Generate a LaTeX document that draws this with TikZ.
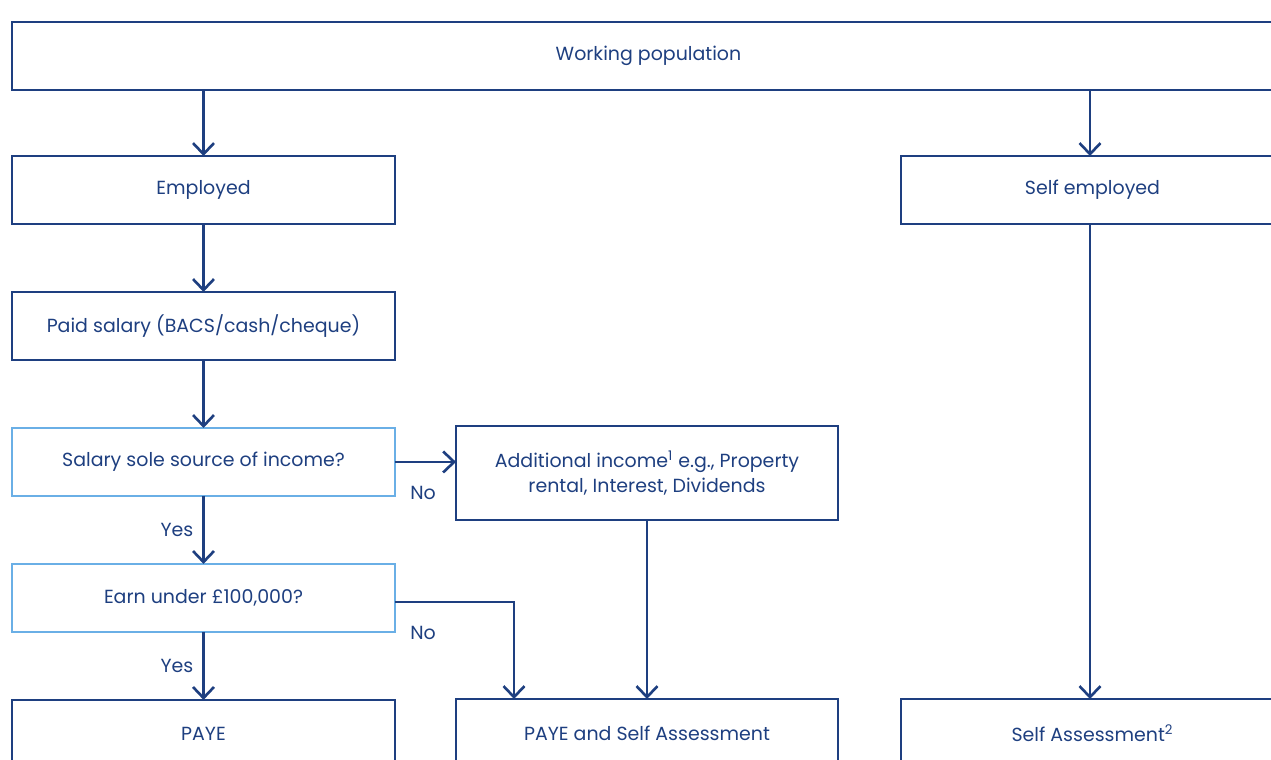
\documentclass[tikz,border=0pt]{standalone}
\usepackage{fontspec}
\setmainfont{Poppins}
\usepackage{tikz}
\usetikzlibrary{positioning,arrows.meta}
\definecolor{flowDark}{HTML}{1E3F80}
\definecolor{flowLight}{HTML}{6AAFE6}
\tikzset{
  flowbox/.style={draw=flowDark, line width=1.5pt, minimum width=7.66cm,
                  minimum height=1.36cm, align=center, text=flowDark, outer sep=0pt,
                  font=\fontsize{10.8}{14}\selectfont, inner sep=2pt},
  askbox/.style={flowbox, draw=flowLight},
  flowarrow/.style={draw=flowDark, line width=1.5pt,
                    -{Straight Barb[length=0.22cm, width=0.42cm, line width=1.5pt]}},
  lbl/.style={text=flowDark, font=\fontsize{10.8}{13}\selectfont, inner sep=1pt},
}
\begin{document}
\begin{tikzpicture}[x=0.02cm, y=-0.02cm, node distance=1.36cm]
\useasboundingbox (0,0) rectangle (1271,760);
\clip (0,0) rectangle (1271,760);

%% Top row
\node[flowbox, minimum width=25.46cm] (work) at (648.5,56) {Working population};
\node[flowbox] (emp) at (203.5,190) {Employed};
\node[flowbox] (self) at (1092.5,190) {Self employed};

%% Employed column
\node[flowbox, below=of emp] (paid) {Paid salary (BACS/cash/cheque)};
\node[askbox, below=of paid] (sole) {Salary sole source of income?};
\node[askbox, below=of sole] (earn) {Earn under £100,000?};
\node[flowbox, below=of earn] (paye) {PAYE};

%% Middle column
\node[flowbox, minimum width=7.64cm, minimum height=1.88cm] (addinc) at (647,473)
  {Additional income\textsuperscript{1} e.g., Property\\rental, Interest, Dividends};
\node[flowbox, minimum width=7.64cm] (both) at (647,733) {PAYE and Self Assessment};

%% Self employed column
\node[flowbox] (sa) at (1092.5,733) {Self Assessment\textsuperscript{2}};

%% Connectors
\draw[flowarrow] (work.south -| emp.north) -- (emp.north);
\draw[flowarrow] (work.south -| 1090,0) -- (1090,156);
\draw[flowarrow] (emp) -- (paid);
\draw[flowarrow] (paid) -- (sole);
\draw[flowarrow] (sole) -- node[lbl, left=4pt] {Yes} (earn);
\draw[flowarrow] (earn) -- node[lbl, left=4pt] {Yes} (paye);
\draw[flowarrow] (sole.east) -- node[lbl, at start, below right=12pt and 7pt] {No} (sole.east -| addinc.west);
\draw[flowarrow] ([yshift=-0.08cm]earn.east) -| node[lbl, at start, below right=12pt and 7pt] {No} (514,699);
\draw[flowarrow] (addinc) -- (both);
\draw[flowarrow] (self.south -| 1090,0) -- (sa.north -| 1090,0);
\end{tikzpicture}
\end{document}
